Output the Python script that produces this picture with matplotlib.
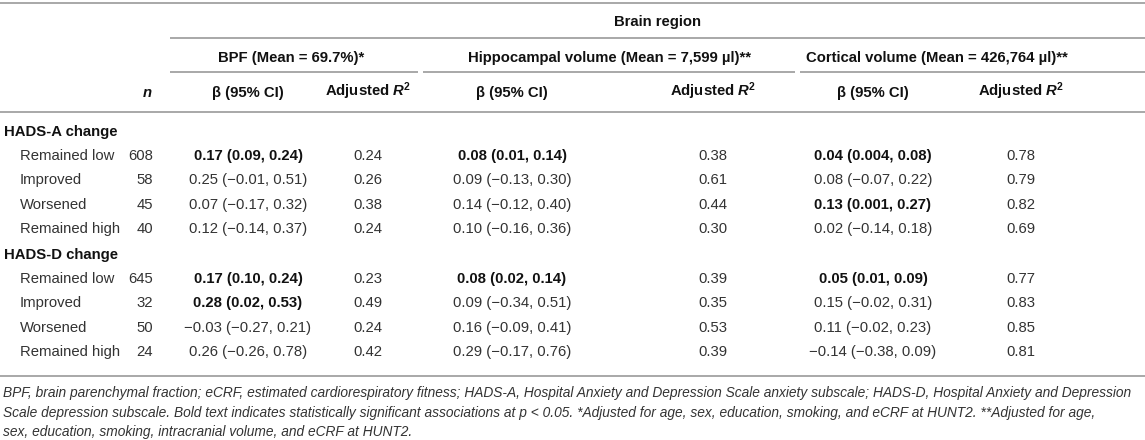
import matplotlib
matplotlib.use("Agg")
import matplotlib.pyplot as plt

plt.rcParams['font.family'] = ['Liberation Sans', 'DejaVu Sans']
plt.rcParams['mathtext.fontset'] = 'custom'
plt.rcParams['mathtext.rm'] = 'Liberation Sans'
plt.rcParams['mathtext.it'] = 'Liberation Sans:italic'
plt.rcParams['mathtext.bf'] = 'Liberation Sans:bold'
plt.rcParams['mathtext.bfit'] = 'Liberation Sans:italic:bold'

# ---------------- data ----------------
super_header = "Brain region"
groups = ["BPF (Mean = 69.7%)*",
          "Hippocampal volume (Mean = 7,599 \u00b5l)**",
          "Cortical volume (Mean = 426,764 \u00b5l)**"]
sections = ["HADS-A change", "HADS-D change"]
categories = ["Remained low", "Improved", "Worsened", "Remained high"]

n_values = [[608, 58, 45, 40],
            [645, 32, 50, 24]]

bpf_beta = [["0.17 (0.09, 0.24)", "0.25 (\u22120.01, 0.51)", "0.07 (\u22120.17, 0.32)", "0.12 (\u22120.14, 0.37)"],
            ["0.17 (0.10, 0.24)", "0.28 (0.02, 0.53)", "\u22120.03 (\u22120.27, 0.21)", "0.26 (\u22120.26, 0.78)"]]
bpf_r2 = [[0.24, 0.26, 0.38, 0.24],
          [0.23, 0.49, 0.24, 0.42]]
bpf_sig = [[True, False, False, False],
           [True, True, False, False]]

hip_beta = [["0.08 (0.01, 0.14)", "0.09 (\u22120.13, 0.30)", "0.14 (\u22120.12, 0.40)", "0.10 (\u22120.16, 0.36)"],
            ["0.08 (0.02, 0.14)", "0.09 (\u22120.34, 0.51)", "0.16 (\u22120.09, 0.41)", "0.29 (\u22120.17, 0.76)"]]
hip_r2 = [[0.38, 0.61, 0.44, 0.30],
          [0.39, 0.35, 0.53, 0.39]]
hip_sig = [[True, False, False, False],
           [True, False, False, False]]

cort_beta = [["0.04 (0.004, 0.08)", "0.08 (\u22120.07, 0.22)", "0.13 (0.001, 0.27)", "0.02 (\u22120.14, 0.18)"],
             ["0.05 (0.01, 0.09)", "0.15 (\u22120.02, 0.31)", "0.11 (\u22120.02, 0.23)", "\u22120.14 (\u22120.38, 0.09)"]]
cort_r2 = [[0.78, 0.79, 0.82, 0.69],
           [0.77, 0.83, 0.85, 0.81]]
cort_sig = [[True, False, True, False],
            [True, False, False, False]]

footnote_lines = [
    "BPF, brain parenchymal fraction; eCRF, estimated cardiorespiratory fitness; HADS-A, Hospital Anxiety and Depression Scale anxiety subscale; HADS-D, Hospital Anxiety and Depression",
    "Scale depression subscale. Bold text indicates statistically significant associations at p < 0.05. *Adjusted for age, sex, education, smoking, and eCRF at HUNT2. **Adjusted for age,",
    "sex, education, smoking, intracranial volume, and eCRF at HUNT2.",
]

# ---------------- layout ----------------
W, H = 1145, 440
fig = plt.figure(figsize=(W / 100, H / 100), dpi=100)
ax = fig.add_axes([0, 0, 1, 1])
ax.set_xlim(0, W)
ax.set_ylim(H, 0)
ax.axis("off")

TXT = "#333333"
BOLD = "#111111"
LINE = "#a8a8a8"
FS = 10.7
LW = 1.4

def hline(x0, x1, y):
    ax.plot([x0, x1], [y, y], color=LINE, lw=LW, solid_capstyle="butt")

# rules
hline(0, W, 3)
hline(170, W, 38)
hline(170, 418, 72)
hline(423, 795, 72)
hline(800, W, 72)
hline(0, W, 112)
hline(0, W, 376)

# headers
ax.text(657, 22, super_header, ha="center", va="center", fontsize=FS, fontweight="bold", color=BOLD)
group_cx = [291, 609, 937]
for cx, g in zip(group_cx, groups):
    ax.text(cx, 58, g, ha="center", va="center", fontsize=FS, fontweight="bold", color=BOLD)

n_x = 153
beta_cx = [248, 512, 873]
r2_cx = [368, 713, 1021]
sub_y = 93
ax.text(147, sub_y, "n", ha="center", va="center", fontsize=FS, fontweight="bold", style="italic", color=BOLD)
for bx, rx in zip(beta_cx, r2_cx):
    ax.text(bx, sub_y, "\u03b2 (95% CI)", ha="center", va="center", fontsize=FS, fontweight="bold", color=BOLD)
    ax.text(rx, sub_y - 2, r"Adjusted $\mathbfit{R}^{\mathbf{2}}$", ha="center", va="center",
            fontsize=FS, fontweight="bold", color=BOLD)

# body
sec_y = [132, 255]
row_dy = 24.2
betas = [bpf_beta, hip_beta, cort_beta]
r2s = [bpf_r2, hip_r2, cort_r2]
sigs = [bpf_sig, hip_sig, cort_sig]
for s, sec in enumerate(sections):
    y0 = sec_y[s]
    ax.text(4, y0, sec, ha="left", va="center", fontsize=FS, fontweight="bold", color=BOLD)
    for i, cat in enumerate(categories):
        y = y0 + row_dy * (i + 1)
        ax.text(20, y, cat, ha="left", va="center", fontsize=FS, color=TXT)
        ax.text(n_x, y, str(n_values[s][i]), ha="right", va="center", fontsize=FS, color=TXT)
        for g in range(3):
            b = sigs[g][s][i]
            ax.text(beta_cx[g], y, betas[g][s][i], ha="center", va="center", fontsize=FS,
                    fontweight="bold" if b else "normal", color=BOLD if b else TXT)
            ax.text(r2_cx[g], y, f"{r2s[g][s][i]:.2f}", ha="center", va="center", fontsize=FS, color=TXT)

# footnote
foot_y = [393, 413, 432]
for y, line in zip(foot_y, footnote_lines):
    ax.text(3, y, line, ha="left", va="center", fontsize=9.9, style="italic", color=TXT)

fig.savefig("out.png", dpi=100)
